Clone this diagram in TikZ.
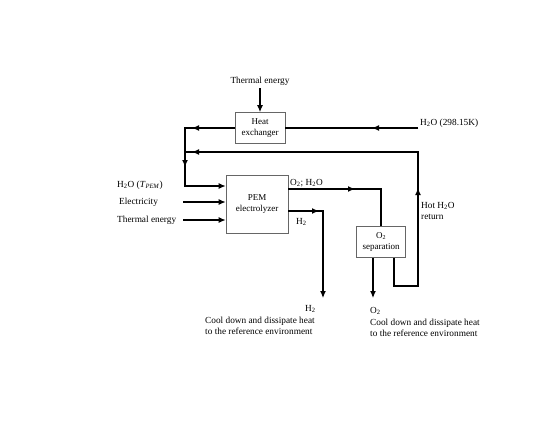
\documentclass[tikz,border=0pt]{standalone}
\usepackage{fontspec}
\setmainfont{Liberation Serif}
\usetikzlibrary{arrows.meta,calc}
\newcommand{\sbs}[1]{\textsubscript{#1}}
\begin{document}
\begin{tikzpicture}[x=1pt,y=-1pt,
  tip/.tip={Latex[length=7pt,width=6pt]},
  flow/.style={line width=1.2pt,black},
  endarrow/.style={flow,-tip},
  box/.style={draw=black!60,line width=0.7pt,fill=white,align=center,font=\fontsize{9}{10.5}\selectfont,inner sep=0pt},
  lbl/.style={font=\fontsize{9.3}{11}\selectfont,inner sep=0pt,align=left}]
\useasboundingbox (0,0) rectangle (545,421);
% boxes
\node[box,minimum width=50pt,minimum height=31pt] (hx) at (260,128) {Heat\\exchanger};
\node[box,minimum width=62pt,minimum height=58pt] (pem) at (257,204) {PEM\\electrolyzer};
\node[box,minimum width=49pt,minimum height=31pt] (sep) at (381,242) {O\sbs{2}\\separation};
% labels
\node[lbl] (te1) at (260,81) {Thermal energy};
\node[lbl,anchor=west] (h2oin) at (420,123) {H\sbs{2}O (298.15K)};
\node[lbl,anchor=west] (h2opem) at (117,185) {H\sbs{2}O (\textit{T}\sbs{\textit{PEM}})};
\node[lbl,anchor=west] (elec) at (119,202) {Electricity};
\node[lbl,anchor=west] (te2) at (117,220) {Thermal energy};
\node[lbl,anchor=west] (o2h2o) at (290,183) {O\sbs{2}; H\sbs{2}O};
\node[lbl,anchor=west] (h2a) at (296,222) {H\sbs{2}};
\node[lbl,anchor=west] (hot) at (421,211) {Hot H\sbs{2}O\\return};
\node[lbl,anchor=west] (h2b) at (305,309) {H\sbs{2}};
\node[lbl,anchor=west] (cool1) at (205,326) {Cool down and dissipate heat\\to the reference environment};
\node[lbl,anchor=west] (o2b) at (370,311) {O\sbs{2}};
\node[lbl,anchor=west] (cool2) at (370,328) {Cool down and dissipate heat\\to the reference environment};
% coordinates
\coordinate (w0) at (418,128);
\coordinate (j1) at (185,128);
\coordinate (j2) at (185,186);
\coordinate (e0) at (183,202);
\coordinate (t0) at (183,220);
\coordinate (r1) at (394,286);
\coordinate (r2) at (418,286);
\coordinate (r3) at (418,152);
\coordinate (r4) at (185,152);
\coordinate (oc) at (381,189);
\coordinate (hc) at (323,211);
\coordinate (hend) at (323,298);
\coordinate (oend) at (373,298);
% mid-arrow positions
\coordinate (m1) at (372,128);
\coordinate (m2) at (192,128);
\coordinate (m3) at (185,167);
\coordinate (m4) at (418,188);
\coordinate (m5) at (192,152);
\coordinate (m6) at (355,189);
\coordinate (m7) at (319,211);
% connectors
\draw[endarrow] (te1.south) ++(0,3) -- (hx.north);
% water inlet
\draw[flow] (w0) -- (hx.east |- w0);
\draw[endarrow] (w0) -- (m1);
% heat exchanger to PEM
\draw[endarrow] (hx.west |- j1) -- (j1) -- (j2) -- (pem.west |- j2);
\draw[endarrow] (hx.west |- j1) -- (m2);
\draw[endarrow] (j1) -- (m3);
% electricity and thermal energy
\draw[endarrow] (e0) -- (pem.west |- e0);
\draw[endarrow] (t0) -- (pem.west |- t0);
% hot water return
\draw[flow] (sep.south -| r1) -- (r1) -- (r2) -- (r3) -- (r4);
\draw[endarrow] (r2) -- (m4);
\draw[endarrow] (r3) -- (m5);
% O2 + H2O
\draw[flow] (pem.east |- oc) -- (oc) -- (sep.north -| oc);
\draw[endarrow] (pem.east |- oc) -- (m6);
% H2
\draw[endarrow] (pem.east |- hc) -- (hc) -- (hend);
\draw[endarrow] (pem.east |- hc) -- (m7);
% O2
\draw[endarrow] (sep.south -| oend) -- (oend);
\end{tikzpicture}
\end{document}
